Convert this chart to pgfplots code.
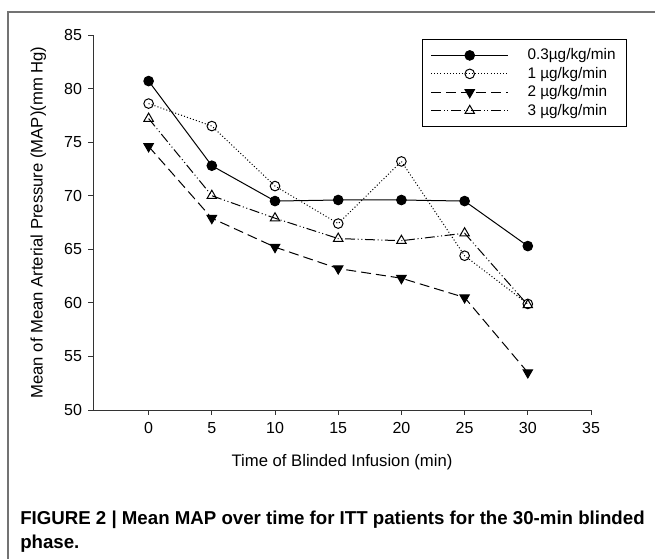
\documentclass[border=0pt]{standalone}
\usepackage{pgfplots}
\pgfplotsset{compat=1.18}
\usepackage{fontspec}
\setmainfont{Liberation Sans}
\begin{document}
\begin{tikzpicture}
\path[use as bounding box] (0,0) rectangle (491.25pt,419.25pt);
\draw[black!55, line width=1.1pt] (6pt,0) -- (6pt,410.25pt) -- (491.25pt,410.25pt);
\begin{axis}[
  at={(69.75pt,111.75pt)}, anchor=south west,
  scale only axis, width=373.5pt, height=281.25pt,
  xmin=-4.4, xmax=35, ymin=50, ymax=85,
  xtick={0,5,...,35}, ytick={50,55,...,85},
  axis x line*=bottom, axis y line*=left,
  axis line style={black!80, line width=0.7pt},
  tick style={black!80, line width=0.7pt},
  tick align=outside, major tick length=3.75pt,
  /pgf/number format/assume math mode=true,
  ticklabel style={font=\fontsize{12}{13}\selectfont},
  yticklabel style={xshift=-1pt},
  xticklabel style={yshift=-2pt},
  label style={font=\fontsize{12.5}{14}\selectfont},
  xlabel={Time of Blinded Infusion (min)},
  ylabel={Mean of Mean Arterial Pressure (MAP)(mm Hg)},
  xlabel style={at={(axis description cs:0.5,-0.139)}, anchor=center},
  ylabel style={at={(axis description cs:-0.11,0.5)}, anchor=center},
  legend style={at={(axis description cs:0.661,0.989)}, anchor=north west,
    draw=black, line width=0.6pt, font=\fontsize{11.5}{13}\selectfont,
    inner xsep=6pt, inner ysep=5pt, row sep=0pt,
    /tikz/every even column/.append style={column sep=0pt}},
  legend cell align=left,
  legend image code/.code={\draw[mark repeat=2,mark phase=2,#1] plot coordinates {(0pt,0pt) (29pt,0pt) (58pt,0pt)};},
  every axis plot/.append style={line width=0.75pt, black},
]
\addplot[solid, mark=*, mark size=3.6pt, mark options={solid, fill=black}]
  coordinates {(0,80.7) (5,72.8) (10,69.5) (15,69.6) (20,69.6) (25,69.5) (30,65.3)};
\addlegendentry{\hspace{12pt}0.3µg/kg/min\hspace{13pt}}
\addplot[dash pattern=on 0.75pt off 1.6pt, mark=o, mark size=3.6pt, mark options={solid, fill=white}]
  coordinates {(0,78.6) (5,76.5) (10,70.9) (15,67.4) (20,73.2) (25,64.4) (30,59.9)};
\addlegendentry{\hspace{12pt}1 µg/kg/min}
\addplot[dash pattern=on 7.5pt off 3.75pt, mark=triangle*, mark size=4.1pt, mark options={solid, fill=black, rotate=180}]
  coordinates {(0,74.6) (5,67.9) (10,65.2) (15,63.2) (20,62.3) (25,60.5) (30,53.5)};
\addlegendentry{\hspace{12pt}2 µg/kg/min}
\addplot[dash pattern=on 7.5pt off 2pt on 0.75pt off 2pt on 0.75pt off 2pt, mark=triangle, mark size=4.1pt, mark options={solid, fill=white}]
  coordinates {(0,77.2) (5,70.0) (10,67.9) (15,66.0) (20,65.8) (25,66.5) (30,59.8)};
\addlegendentry{\hspace{12pt}3 µg/kg/min}
\end{axis}
\node[anchor=base west, inner sep=0pt, font=\bfseries\fontsize{14}{16}\selectfont] at (15pt,25.5pt) {FIGURE 2 | Mean MAP over time for ITT patients for the 30-min blinded};
\node[anchor=base west, inner sep=0pt, font=\bfseries\fontsize{14}{16}\selectfont] at (15pt,8.25pt) {phase.};
\end{tikzpicture}
\end{document}
